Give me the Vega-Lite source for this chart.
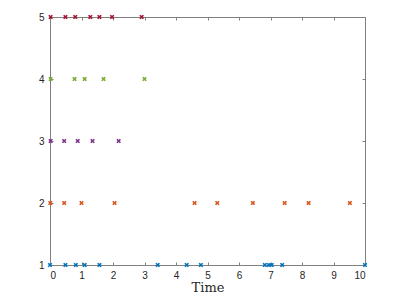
{
  "$schema": "https://vega.github.io/schema/vega-lite/v6.json",
  "width": 315,
  "height": 248,
  "autosize": {"type": "none"},
  "padding": {"left": 50, "top": 17, "right": 43, "bottom": 38},
  "background": "white",
  "config": {"view": {"stroke": null}},
  "data": {"values": [
    {"t": 0.02, "row": 5}, {"t": 0.49, "row": 5}, {"t": 0.8, "row": 5}, {"t": 1.28, "row": 5}, {"t": 1.57, "row": 5}, {"t": 1.97, "row": 5}, {"t": 2.91, "row": 5},
    {"t": 0.02, "row": 4}, {"t": 0.78, "row": 4}, {"t": 1.1, "row": 4}, {"t": 1.7, "row": 4}, {"t": 3.0, "row": 4},
    {"t": 0.02, "row": 3}, {"t": 0.45, "row": 3}, {"t": 0.88, "row": 3}, {"t": 1.35, "row": 3}, {"t": 2.18, "row": 3},
    {"t": 0.01, "row": 2}, {"t": 0.45, "row": 2}, {"t": 1.0, "row": 2}, {"t": 2.05, "row": 2}, {"t": 4.59, "row": 2}, {"t": 5.31, "row": 2}, {"t": 6.44, "row": 2}, {"t": 7.45, "row": 2}, {"t": 8.21, "row": 2}, {"t": 9.52, "row": 2},
    {"t": 0.0, "row": 1}, {"t": 0.49, "row": 1}, {"t": 0.82, "row": 1}, {"t": 1.1, "row": 1}, {"t": 1.57, "row": 1}, {"t": 3.42, "row": 1}, {"t": 4.34, "row": 1}, {"t": 4.79, "row": 1}, {"t": 6.82, "row": 1}, {"t": 6.95, "row": 1}, {"t": 7.04, "row": 1}, {"t": 7.37, "row": 1}, {"t": 10.0, "row": 1}
  ]},
  "layer": [
    {
      "mark": {"type": "point", "shape": "M-1,-1L1,1M1,-1L-1,1", "filled": false, "strokeWidth": 1.7, "size": 12, "opacity": 1, "clip": false},
      "encoding": {
        "x": {"field": "t", "type": "quantitative", "scale": {"domain": [0, 10], "nice": false, "zero": false},
          "axis": {"title": "Time", "titleFont": "DejaVu Serif", "titleFontWeight": "normal", "titleFontSize": 13, "titleColor": "#262626", "titlePadding": 1,
            "values": [0,1,2,3,4,5,6,7,8,9,10], "format": "d", "grid": false, "domainColor": "#808080", "tickColor": "#808080", "tickSize": -3,
            "labelPadding": 8, "labelFont": "Liberation Sans", "labelFontSize": 10, "labelColor": "#262626"}},
        "y": {"field": "row", "type": "quantitative", "scale": {"domain": [1, 5], "nice": false, "zero": false},
          "axis": {"title": null, "values": [1,2,3,4,5], "format": "d", "grid": false, "domainColor": "#808080", "tickColor": "#808080", "tickSize": -3,
            "labelPadding": 9, "labelFont": "Liberation Sans", "labelFontSize": 10, "labelColor": "#262626"}},
        "color": {"field": "row", "type": "nominal", "legend": null,
          "scale": {"domain": [1, 2, 3, 4, 5], "range": ["#0072BD", "#D95319", "#7E2F8E", "#77AC30", "#A2142F"]}}
      }
    },
    {
      "mark": {"type": "point", "opacity": 0},
      "data": {"values": [{"t": 0, "row": 1}]},
      "encoding": {
        "x": {"field": "t", "type": "quantitative", "scale": {"domain": [0, 10], "nice": false, "zero": false}, "axis": {"orient": "top", "title": null, "labels": false, "values": [0,1,2,3,4,5,6,7,8,9,10], "grid": false, "domainColor": "#808080", "tickColor": "#808080", "tickSize": -3}},
        "y": {"field": "row", "type": "quantitative", "scale": {"domain": [1, 5], "nice": false, "zero": false}, "axis": {"orient": "right", "title": null, "labels": false, "values": [1,2,3,4,5], "grid": false, "domainColor": "#808080", "tickColor": "#808080", "tickSize": -3}}
      }
    }
  ],
  "resolve": {"axis": {"x": "independent", "y": "independent"}}
}
